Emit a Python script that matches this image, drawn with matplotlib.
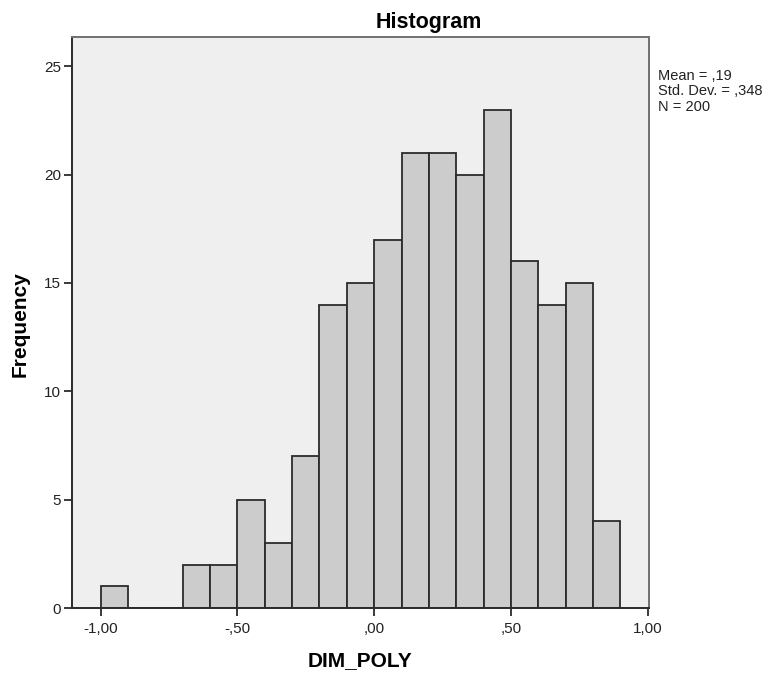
import matplotlib
matplotlib.use("Agg")
import matplotlib.pyplot as plt

plt.rcParams['font.family'] = ['Liberation Sans', 'DejaVu Sans']

# histogram bins (lower edges) and counts
bin_edges = [-1.0, -0.9, -0.8, -0.7, -0.6, -0.5, -0.4, -0.3, -0.2, -0.1,
             0.0, 0.1, 0.2, 0.3, 0.4, 0.5, 0.6, 0.7, 0.8, 0.9]
counts = [1, 0, 0, 2, 2, 5, 3, 7, 14, 15, 17, 21, 21, 20, 23, 16, 14, 15, 4]

x_ticks = [-1.0, -0.5, 0.0, 0.5, 1.0]
x_tick_labels = ['-1,00', '-,50', ',00', ',50', '1,00']
y_ticks = [0, 5, 10, 15, 20, 25]
stats_text = "Mean = ,19\nStd. Dev. = ,348\nN = 200"

W, H = 772, 677
fig = plt.figure(figsize=(W / 100, H / 100), dpi=100)
ax = fig.add_axes([72 / W, 1 - 608 / H, (649 - 72) / W, (608 - 37) / H])
ax.set_facecolor('#efefef')

ax.hist(bin_edges[:-1], bins=bin_edges, weights=counts,
        color='#cccccc', edgecolor='#2b2b2b', linewidth=1.3)

ax.set_xlim(-1.105, 1.005)
ax.set_ylim(0, 26.35)
ax.set_xticks(x_ticks)
ax.set_xticklabels(x_tick_labels)
ax.set_yticks(y_ticks)
ax.tick_params(direction='out', length=6, width=1.3, color='#2b2b2b',
               labelsize=11, labelcolor='#222222', pad=2)
ax.tick_params(axis='x', pad=4)
for side in ['left', 'bottom']:
    ax.spines[side].set_color('#2b2b2b')
    ax.spines[side].set_linewidth(1.4)
for side in ['top', 'right']:
    ax.spines[side].set_color('#707070')
    ax.spines[side].set_linewidth(1.4)

fig.text(429 / W, 1 - 28 / H, 'Histogram', ha='center', va='baseline',
         fontsize=15.5, fontweight='bold')
fig.text(360 / W, 1 - 661 / H, 'DIM_POLY', ha='center', va='center',
         fontsize=15, fontweight='bold')
fig.text(20 / W, 1 - 324 / H, 'Frequency', ha='center', va='center',
         rotation=90, fontsize=15, fontweight='bold')
fig.text(658 / W, 1 - 69 / H, stats_text, ha='left', va='top',
         fontsize=10.5, linespacing=1.12, color='#222222')

fig.savefig('out.png', dpi=100)
